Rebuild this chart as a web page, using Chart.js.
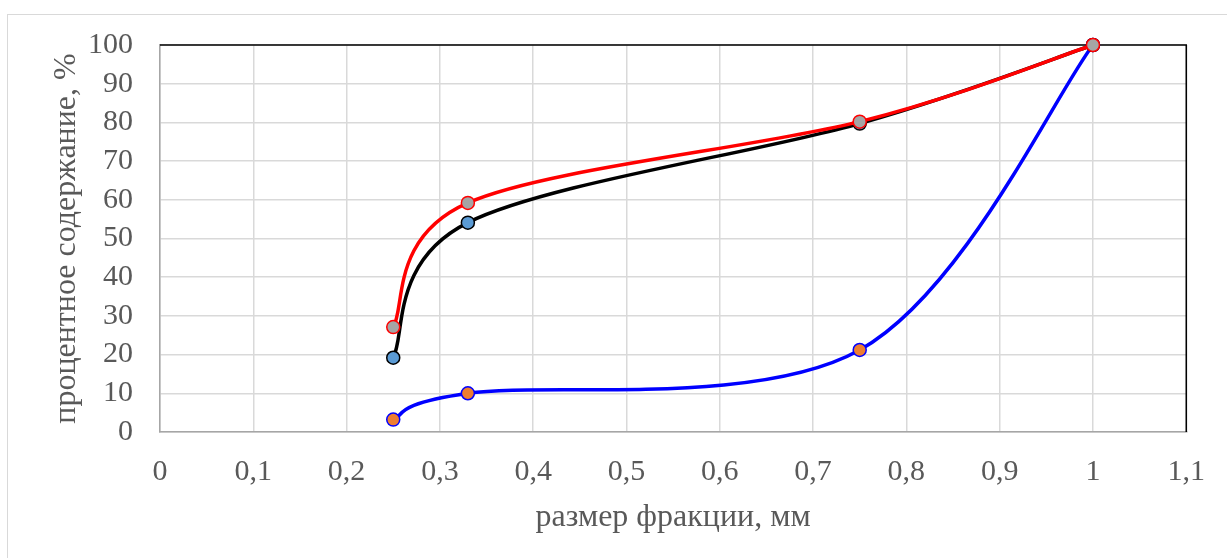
<!DOCTYPE html>
<html>
<head>
<meta charset="utf-8">
<script src="https://cdn.jsdelivr.net/npm/chart.js@4"></script>
<style>
  html, body { margin: 0; padding: 0; background: #fff; overflow: hidden; }
  #wrap { position: relative; width: 1227px; height: 558px; }
  #frame { position: absolute; left: 7px; top: 14px; width: 1240px; height: 560px; border: 1px solid #d9d9d9; }
  #c { position: absolute; left: 0; top: 0; }
</style>
</head>
<body>
<div id="wrap">
  <div id="frame"></div>
  <canvas id="c" width="1227" height="558"></canvas>
</div>
<script>
// Fraction sizes, mm
const sizes = [0.25, 0.33, 0.75, 1];
// Cumulative content, %
const seriesBlack = [19.2, 54.1, 79.7, 100];
const seriesRed = [27.1, 59.2, 80.2, 100];
const seriesBlue = [3.2, 10.0, 21.2, 100];

const xTickLabels = ['0', '0,1', '0,2', '0,3', '0,4', '0,5', '0,6', '0,7', '0,8', '0,9', '1', '1,1'];
const yTickLabels = ['0', '10', '20', '30', '40', '50', '60', '70', '80', '90', '100'];

const xTitle = 'размер фракции, мм';
const yTitle = 'процентное содержание, %';

const toPoints = (ys) => sizes.map((x, i) => ({ x: x, y: ys[i] }));

const FONT = 'Liberation Serif';
const TEXT = '#595959';

// Smooth lines using uniform Catmull-Rom control points (1/6 of neighbour span)
const smoothLines = {
  id: 'smoothLines',
  beforeDatasetDraw(chart, args) {
    const meta = args.meta;
    const line = meta.dataset;
    if (!line) return;
    line.updateControlPoints(chart.chartArea, meta.iScale.axis);
    const pts = meta.data;
    const n = pts.length;
    for (let i = 0; i < n; i++) {
      const p = pts[i];
      const prev = pts[Math.max(i - 1, 0)];
      const next = pts[Math.min(i + 1, n - 1)];
      const dx = (next.x - prev.x) / 6;
      const dy = (next.y - prev.y) / 6;
      p.cp1x = p.x - dx; p.cp1y = p.y - dy;
      p.cp2x = p.x + dx; p.cp2y = p.y + dy;
    }
  }
};

// Black top and right edges of the plot area
const plotEdges = {
  id: 'plotEdges',
  beforeDatasetsDraw(chart) {
    const { ctx, chartArea: a } = chart;
    ctx.save();
    ctx.strokeStyle = '#000';
    ctx.lineWidth = 1.5;
    ctx.beginPath();
    ctx.moveTo(a.left, a.top);
    ctx.lineTo(a.right, a.top);
    ctx.lineTo(a.right, a.bottom);
    ctx.stroke();
    ctx.restore();
  }
};

new Chart(document.getElementById('c'), {
  type: 'line',
  data: {
    datasets: [
      {
        data: toPoints(seriesRed),
        borderColor: '#ff0000',
        pointBackgroundColor: '#a5a5a5',
        pointBorderColor: '#ff0000',
        order: 0
      },
      {
        data: toPoints(seriesBlack),
        borderColor: '#000000',
        pointBackgroundColor: '#5b9bd5',
        pointBorderColor: '#000000',
        order: 1
      },
      {
        data: toPoints(seriesBlue),
        borderColor: '#0000ff',
        pointBackgroundColor: '#ed7d31',
        pointBorderColor: '#0000ff',
        order: 2
      }
    ].map(d => Object.assign({
      borderWidth: 3.5,
      pointRadius: 6.5,
      pointBorderWidth: 1.5,
      tension: 0.4,
      fill: false,
      clip: false
    }, d))
  },
  options: {
    responsive: false,
    animation: false,
    events: [],
    layout: { padding: { top: 44, right: 37, left: 0, bottom: 0 } },
    plugins: { legend: { display: false }, tooltip: { enabled: false } },
    scales: {
      x: {
        type: 'linear',
        min: 0,
        max: 1.1,
        afterFit(scale) { scale.height = 126; },
        afterBuildTicks(scale) {
          scale.ticks = xTickLabels.map((_, i) => ({ value: i / 10 }));
        },
        ticks: {
          autoSkip: false,
          maxRotation: 0,
          padding: 22,
          color: TEXT,
          font: { family: FONT, size: 30 },
          callback: (v, i) => xTickLabels[i]
        },
        grid: { color: '#d9d9d9', lineWidth: 1.5, drawTicks: false },
        border: { color: '#a6a6a6', width: 1.5 },
        title: {
          display: true,
          text: xTitle,
          color: TEXT,
          font: { family: FONT, size: 32 },
          padding: { top: 0, bottom: 21 }
        }
      },
      y: {
        type: 'linear',
        min: 0,
        max: 100,
        afterFit(scale) { scale.width = 160; },
        afterBuildTicks(scale) {
          scale.ticks = yTickLabels.map((_, i) => ({ value: i * 10 }));
        },
        ticks: {
          autoSkip: false,
          padding: 27,
          color: TEXT,
          font: { family: FONT, size: 30 },
          callback: (v, i) => yTickLabels[i]
        },
        grid: { color: '#d9d9d9', lineWidth: 1.5, drawTicks: false },
        border: { color: '#a6a6a6', width: 1.5 },
        title: {
          display: true,
          text: yTitle,
          color: TEXT,
          font: { family: FONT, size: 32 },
          padding: { top: 47, bottom: 0 }
        }
      }
    }
  },
  plugins: [smoothLines, plotEdges]
});
</script>
</body>
</html>
